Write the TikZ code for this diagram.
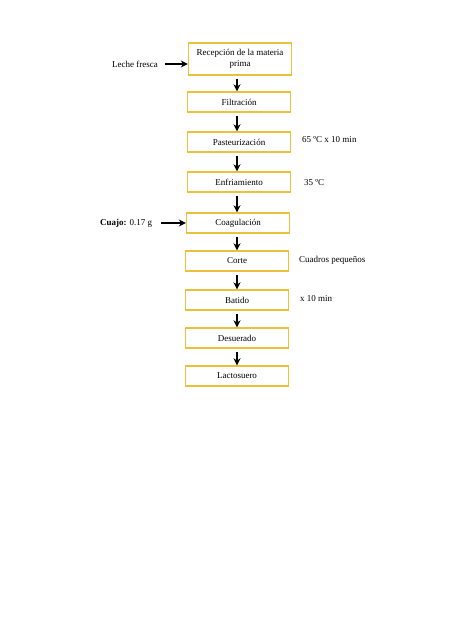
\documentclass[tikz,border=0pt]{standalone}
\usepackage{fontspec}
\setmainfont{Liberation Serif}
\usepackage{xcolor}
\usepackage{tikz}
\usetikzlibrary{arrows.meta}
\usetikzlibrary{positioning}
\definecolor{boxgold}{HTML}{EDC03A}

\begin{document}
\begin{tikzpicture}[
	x=1pt, y=-1pt,
	font=\fontsize{9}{11}\selectfont
]
\tikzset{
    stepbox/.style = {rectangle, draw=boxgold, line width=1.4pt, align=center, fill=white, minimum width=103pt, minimum height=20pt, inner sep=1pt},
    flow/.style = {-{Stealth[length=7pt,width=7pt]}, line width=1.8pt, black},
    note/.style = {anchor=west, inner sep=0pt},
}
\useasboundingbox (0,0) rectangle (474,632);
\node[stepbox, minimum height=32pt] (recep) at (240,59) {Recepción de la materia\\prima};
\node[stepbox] (filtr) at (239,102) {Filtración};
\node[stepbox] (paste) at (239,142) {Pasteurización};
\node[stepbox] (enfri) at (239,182) {Enfriamiento};
\node[stepbox] (coagu) at (238,223) {Coagulación};
\node[stepbox] (corte) at (237,261) {Corte};
\node[stepbox] (batid) at (237,300) {Batido};
\node[stepbox] (desue) at (237,338) {Desuerado};
\node[stepbox] (lacto) at (237,376) {Lactosuero};
% flechas principales
\draw[flow] (recep.south -| 237,0) ++(0,3) -- (filtr.north -| 237,0);
\draw[flow] (filtr.south -| 237,0) ++(0,3) -- (paste.north -| 237,0);
\draw[flow] (paste.south -| 237,0) ++(0,3) -- (enfri.north -| 237,0);
\draw[flow] (enfri.south -| 237,0) ++(0,3) -- (coagu.north -| 237,0);
\draw[flow] (coagu.south -| 237,0) ++(0,3) -- (corte.north -| 237,0);
\draw[flow] (corte.south -| 237,0) ++(0,3) -- (batid.north -| 237,0);
\draw[flow] (batid.south -| 237,0) ++(0,3) -- (desue.north -| 237,0);
\draw[flow] (desue.south -| 237,0) ++(0,3) -- (lacto.north -| 237,0);
% entradas
\node[note] (leche) at (112,64) {Leche fresca};
\coordinate (lecheend) at (165,64);
\draw[flow] (lecheend) -- (recep.west |- lecheend);
\node[note] (cuajo) at (100,223) {\textbf{Cuajo:} 0.17 g};
\coordinate (cuajoend) at (161,223);
\draw[flow] (cuajoend) -- (coagu.west |- cuajoend);
% condiciones
\node[note] (tpaste) at (302,140) {65 ºC x 10 min};
\node[note] (tenfri) at (304,183) {35 ºC};
\node[note] (tcorte) at (299,260) {Cuadros pequeños};
\node[note] (tbatid) at (300,299) {x 10 min};
\end{tikzpicture}
\end{document}
